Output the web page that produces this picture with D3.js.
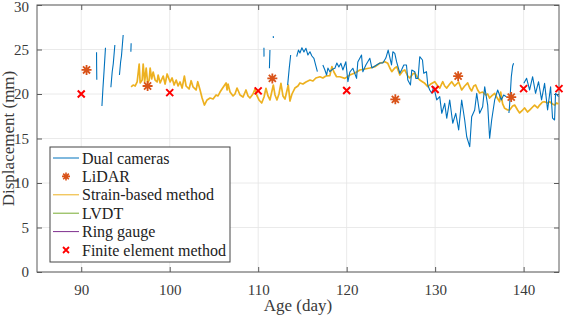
<!DOCTYPE html>
<html>
<head>
<meta charset="utf-8">
<script src="https://cdn.jsdelivr.net/npm/d3@7"></script>
<style>
  body { margin: 0; background: #fff; }
  text { font-family: "Liberation Serif", "Times New Roman", serif; }
</style>
</head>
<body>
<svg id="chart"></svg>
<script>
// tick labels
var xTicks = [90, 100, 110, 120, 130, 140];
var yTicks = [0, 5, 10, 15, 20, 25, 30];

// dual cameras: null value = gap between measuring periods
var camDay = [91.73, 91.74, 91.76, null,
  92.34, 92.45, 92.58, 92.74, null,
  93.35, 93.50, 93.62, 93.80, null,
  94.32, 94.45, 94.55, 94.74, null,
  95.61, 95.64, null,
  110.65, 110.66, null,
  111.33, 111.30, 111.27, null,
  111.70, 111.72, null,
  113.33, 113.50, 113.67, null,
  114.35, 114.55, 114.72, 114.94, 115.17, 115.40, 115.62, 115.85, 116.07, 116.30, 116.52, 116.69, null,
  117.31, 117.54, 117.73, 117.88, 118.10, 118.44, 118.67, 118.89, 119.12, 119.35, 119.57, 119.91, 120.14, 120.36,
  120.70, 121.12, 121.26, 121.68, 121.83, 122.17, 122.62, 122.85, 123.38, 123.75, 124.09, 124.43, 124.69, 125.07,
  125.22, 125.44, 125.64, 126.01, 126.20, 126.46, 126.76, 126.91, 127.21, 127.36, 127.70, 127.81, 128.07, 128.26,
  128.57, 128.71, 129.02, 129.17, 129.39, 129.62, 129.84, 130.18, 130.52, 130.75, 131.08, 131.31, 131.65, 131.99,
  132.33, 132.66, 133.00, 133.34, 133.57, 133.91, 134.13, 134.47, 134.70, 135.03, 135.37, 135.60, 135.94, 136.16,
  136.39, 136.73, 137.07, 137.48, 137.74, 138.05, null,
  138.34, 138.42, 138.61, 138.76, 138.87, null,
  140.03, 140.23, 140.34, 140.68, 141.02, 141.35, 141.69, 142.03, 142.37, 142.71, 143.05, 143.27, 143.50, 143.61, 143.95];
var camVal = [24.70, 23.10, 21.60, null,
  18.65, 20.60, 22.60, 25.20, null,
  20.75, 22.50, 23.40, 25.50, null,
  22.13, 23.60, 24.30, 26.63, null,
  24.75, 25.70, null,
  25.20, 24.20, null,
  24.94, 23.90, 22.90, null,
  26.50, 26.30, null,
  21.00, 22.80, 24.38, null,
  24.19, 24.94, 24.61, 25.20, 24.72, 25.13, 24.38, 24.75, 24.27, 24.01, 23.15, 22.51, null,
  23.26, 22.70, 22.13, 22.92, 22.51, 22.81, 22.89, 23.48, 23.03, 23.45, 22.70, 23.63, 21.38, 22.47,
  22.89, 21.76, 23.60, 24.38, 22.51, 23.26, 24.01, 22.92, 23.26, 23.48, 23.48, 24.04, 24.94, 23.26,
  24.75, 24.57, 23.63, 22.33, 22.70, 23.26, 23.26, 21.57, 21.01, 22.70, 22.51, 21.76, 21.76, 24.19,
  23.82, 22.33, 22.51, 21.01, 20.45, 20.08, 20.82, 19.33, 19.70, 17.83, 18.95, 17.27, 19.33, 16.71,
  17.83, 15.96, 19.33, 17.08, 15.20, 14.08, 17.45, 18.20, 20.08, 17.83, 18.57, 20.82, 18.76, 15.02,
  17.08, 19.33, 20.45, 19.33, 19.89, 19.70, null,
  17.87, 18.76, 21.94, 23.15, 23.45, null,
  21.20, 21.57, 21.76, 20.45, 21.94, 20.08, 21.38, 19.33, 21.20, 18.20, 20.82, 17.30, 17.08, 20.08, 19.70];

// strain-based method
var strainDay = [95.64, 95.87, 96.10, 96.32, 96.55, 96.66, 96.89, 97.00, 97.17, 97.34, 97.51, 97.68, 97.79, 97.96,
  98.13, 98.35, 98.58, 98.69, 98.92, 99.26, 99.48, 99.71, 100.05, 100.27, 100.50, 100.73, 100.95, 101.17,
  101.40, 101.66, 101.85, 102.19, 102.42, 102.64, 102.98, 103.17, 103.43, 103.66, 103.92, 104.22, 104.56, 104.90,
  105.24, 105.46, 105.69, 105.91, 106.14, 106.37, 106.48, 106.59, 106.82, 107.16, 107.38, 107.61, 107.95, 108.29,
  108.62, 108.85, 109.07, 109.41, 109.64, 109.87, 110.09, 110.40, 110.66, 110.88, 111.11, 111.33, 111.71, 111.90,
  112.12, 112.35, 112.57, 112.80, 113.03, 113.40, 113.59, 113.82, 114.15, 114.49, 114.72, 115.06, 115.40, 115.85,
  116.19, 116.52, 116.98, 117.31, 117.65, 118.10, 118.33, 118.56, 118.86, 119.23, 119.80, 120.36, 120.93, 121.49,
  122.06, 122.62, 123.19, 123.75, 124.31, 124.65, 124.88, 125.10, 125.44, 125.67, 126.01, 126.34, 126.57, 126.91,
  127.13, 127.47, 127.70, 128.04, 128.26, 128.60, 128.83, 129.17, 129.50, 129.96, 130.29, 130.52, 130.86, 131.08,
  131.31, 131.65, 131.87, 132.21, 132.66, 133.00, 133.34, 133.68, 133.91, 134.13, 134.36, 134.58, 134.81, 135.03,
  135.37, 135.71, 135.94, 136.16, 136.39, 136.73, 136.95, 137.29, 137.41, 137.63, 137.86, 138.20, 138.42, 138.76,
  138.99, 139.32, 139.55, 139.89, 140.11, 140.45, 140.68, 141.02, 141.24, 141.58, 141.81, 142.14, 142.37, 142.71,
  142.93, 143.27, 143.50, 143.73, 143.95];
var strainVal = [20.79, 21.01, 20.90, 21.35, 23.37, 21.24, 21.57, 23.37, 21.35, 22.92, 21.24, 21.57, 22.92, 21.69,
  22.47, 21.57, 21.35, 22.13, 21.24, 22.02, 21.12, 22.25, 21.35, 21.80, 21.01, 21.57, 20.90, 21.35,
  20.67, 22.02, 20.90, 20.56, 21.49, 20.79, 20.45, 21.38, 20.45, 19.55, 18.76, 19.33, 19.55, 19.44,
  19.89, 19.78, 20.22, 20.56, 20.90, 21.24, 20.45, 21.12, 20.22, 19.78, 20.00, 20.67, 19.89, 19.66,
  20.45, 19.78, 19.55, 20.00, 20.56, 19.78, 19.33, 18.99, 19.66, 20.64, 19.78, 19.33, 21.01, 19.89,
  19.33, 20.00, 21.20, 19.78, 19.44, 21.01, 19.21, 20.00, 20.67, 20.90, 21.24, 21.12, 21.35, 21.57,
  21.46, 21.80, 21.94, 21.80, 22.02, 22.06, 23.07, 22.47, 21.94, 21.94, 21.76, 22.13, 22.36, 22.70,
  22.81, 22.92, 23.07, 23.45, 23.63, 23.45, 22.92, 22.51, 22.92, 23.07, 22.13, 22.58, 22.70, 22.02,
  21.80, 22.25, 22.36, 21.80, 21.57, 21.35, 21.20, 20.82, 21.12, 21.38, 20.90, 20.67, 21.38, 20.90,
  20.67, 21.12, 21.38, 20.90, 21.35, 20.45, 20.90, 21.24, 20.67, 20.34, 20.90, 21.01, 20.45, 20.11,
  20.22, 19.89, 20.00, 19.55, 19.78, 20.08, 19.66, 19.13, 20.22, 18.88, 18.39, 18.20, 18.20, 18.65,
  18.76, 18.20, 17.87, 18.20, 18.43, 17.98, 18.20, 18.54, 18.76, 18.43, 18.76, 19.10, 19.13, 18.99,
  19.13, 18.88, 18.76, 18.99, 18.88];

// LiDAR
var lidarDay = [90.6, 97.5, 111.6, 125.5, 132.6, 138.6];
var lidarVal = [22.7, 20.9, 21.75, 19.4, 22.0, 19.65];

// finite element method
var femDay = [90, 100, 110, 120, 130, 140, 144];
var femVal = [20.0, 20.15, 20.35, 20.4, 20.5, 20.6, 20.6];

var legendNames = ["Dual cameras", "LiDAR", "Strain-based method", "LVDT", "Ring gauge", "Finite element method"];
var legendColors = ["#0072BD", "#D95319", "#EDB120", "#77AC30", "#7E2F8E", "#FF0000"];

var width = 564, height = 316;
var margin = { top: 5, left: 37, bottom: 44, right: 5 };

var svg = d3.select("#chart").attr("width", width).attr("height", height);

var x = d3.scaleLinear().domain([85, 144]).range([margin.left, width - margin.right]);
var y = d3.scaleLinear().domain([0, 30]).range([height - margin.bottom, margin.top]);

var axisColor = "#5a5a5a";
var textColor = "#3a3a3a";

// grid
svg.append("g").selectAll("line").data(xTicks).enter().append("line")
   .attr("x1", function(d) { return x(d); }).attr("x2", function(d) { return x(d); })
   .attr("y1", y(0)).attr("y2", y(30))
   .attr("stroke", "#e4e4e4").attr("stroke-width", 0.8);
svg.append("g").selectAll("line").data(yTicks).enter().append("line")
   .attr("x1", x(85)).attr("x2", x(144))
   .attr("y1", function(d) { return y(d); }).attr("y2", function(d) { return y(d); })
   .attr("stroke", "#e4e4e4").attr("stroke-width", 0.8);

// axes with inward ticks, on all four sides
function styleAxis(g) {
  g.select(".domain").remove();
  g.selectAll(".tick line").attr("stroke", axisColor);
  g.selectAll(".tick text").attr("fill", textColor).style("font-size", "15px")
   .style("font-family", "'Liberation Serif', serif");
}
svg.append("g").attr("transform", "translate(0," + y(0) + ")")
   .call(d3.axisBottom(x).tickValues(xTicks).tickSizeInner(-5).tickPadding(12))
   .call(styleAxis);
var yAxisG = svg.append("g").attr("transform", "translate(" + x(85) + ",0)")
   .call(d3.axisLeft(y).tickValues(yTicks).tickSizeInner(-5).tickPadding(8))
   .call(styleAxis);
// keep the top label inside the window
yAxisG.selectAll(".tick text").filter(function(d) { return d === 30; }).attr("dy", "0.42em");

svg.append("g").attr("transform", "translate(0," + y(30) + ")")
   .call(d3.axisTop(x).tickValues(xTicks).tickSizeInner(-5).tickFormat(""))
   .call(styleAxis);
svg.append("g").attr("transform", "translate(" + x(144) + ",0)")
   .call(d3.axisRight(y).tickValues(yTicks).tickSizeInner(-5).tickFormat(""))
   .call(styleAxis);

// box
svg.append("rect")
   .attr("x", x(85)).attr("y", y(30))
   .attr("width", x(144) - x(85)).attr("height", y(0) - y(30))
   .attr("fill", "none").attr("stroke", axisColor).attr("stroke-width", 1);

var line = d3.line()
   .defined(function(d) { return d[1] !== null; })
   .x(function(d) { return x(d[0]); })
   .y(function(d) { return y(d[1]); });

// strain-based method line
var strain = strainDay.map(function(d, i) { return [d, strainVal[i]]; });
svg.append("path").datum(strain)
   .attr("fill", "none").attr("stroke", legendColors[2]).attr("stroke-width", 1.7)
   .attr("stroke-linejoin", "round")
   .attr("d", line);

// dual cameras
var cam = camDay.map(function(d, i) { return [d, camVal[i]]; });
svg.append("path").datum(cam)
   .attr("fill", "none").attr("stroke", legendColors[0]).attr("stroke-width", 1.1)
   .attr("stroke-linejoin", "round")
   .attr("d", line);

// markers
function asterisk(r) {
  var p = "";
  for (var k = 0; k < 4; k++) {
    var a = k * Math.PI / 4;
    var dx = r * Math.cos(a), dy = r * Math.sin(a);
    p += "M" + (-dx) + "," + (-dy) + "L" + dx + "," + dy;
  }
  return p;
}
function cross(r) {
  return "M" + (-r) + "," + (-r) + "L" + r + "," + r + "M" + (-r) + "," + r + "L" + r + "," + (-r);
}

svg.append("g").selectAll("path").data(lidarDay).enter().append("path")
   .attr("transform", function(d, i) { return "translate(" + x(d) + "," + y(lidarVal[i]) + ")"; })
   .attr("d", asterisk(5))
   .attr("stroke", legendColors[1]).attr("stroke-width", 1.8).attr("fill", "none");

svg.append("g").selectAll("path").data(femDay).enter().append("path")
   .attr("transform", function(d, i) { return "translate(" + x(d) + "," + y(femVal[i]) + ")"; })
   .attr("d", cross(3.5))
   .attr("stroke", legendColors[5]).attr("stroke-width", 2).attr("fill", "none");

// axis labels
svg.append("text")
   .attr("x", (x(85) + x(144)) / 2).attr("y", 311)
   .attr("text-anchor", "middle").attr("fill", textColor)
   .style("font-size", "17px")
   .text("Age (day)");
svg.append("text")
   .attr("transform", "translate(14," + ((y(0) + y(30)) / 2) + ") rotate(-90)")
   .attr("text-anchor", "middle").attr("fill", textColor)
   .style("font-size", "17px")
   .text("Displacement (mm)");

// legend
var lg = svg.append("g").attr("transform", "translate(50,147)");
lg.append("rect").attr("width", 180).attr("height", 115)
  .attr("fill", "#fff").attr("stroke", "#444").attr("stroke-width", 1);
var rows = lg.selectAll("g.row").data(legendNames).enter().append("g")
  .attr("class", "row")
  .attr("transform", function(d, i) { return "translate(0," + (11 + i * 18.4) + ")"; });
rows.each(function(d, i) {
  var r = d3.select(this);
  if (i === 1) {
    r.append("path").attr("transform", "translate(16,0)").attr("d", asterisk(4))
     .attr("stroke", legendColors[i]).attr("stroke-width", 1.6).attr("fill", "none");
  } else if (i === 5) {
    r.append("path").attr("transform", "translate(16,0)").attr("d", cross(3))
     .attr("stroke", legendColors[i]).attr("stroke-width", 1.8).attr("fill", "none");
  } else {
    r.append("line").attr("x1", 3).attr("x2", 29).attr("y1", 0).attr("y2", 0)
     .attr("stroke", legendColors[i]).attr("stroke-width", 1);
  }
  r.append("text").attr("x", 32).attr("y", 5.5)
   .attr("fill", "#222").style("font-size", "16px").text(d);
});
</script>
</body>
</html>
